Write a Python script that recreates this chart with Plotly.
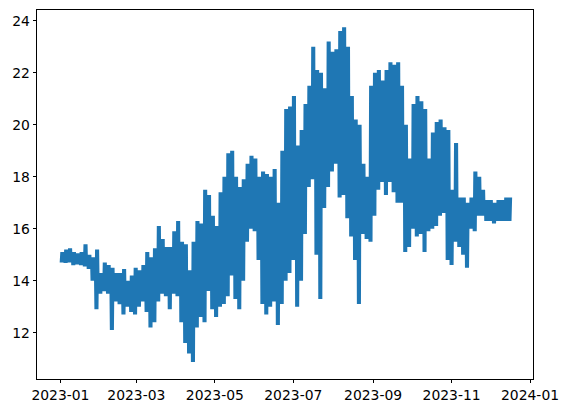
import pandas as pd
import plotly.graph_objects as go

# Sampling: one envelope reading every 3 days starting 2023-01-01
start_date = "2023-01-01"
step_days = 3

# Lower envelope (daily minima)
low_values = [
    14.7, 14.68, 14.7, 14.6, 14.62, 14.6, 14.55, 14.45, 14.0, 12.9,
    13.5, 13.6, 13.5, 12.1, 13.2, 13.1, 12.7, 13.0, 12.8, 12.7,
    13.0, 13.2, 12.8, 12.2, 12.4, 13.2, 13.5, 13.4, 12.9, 13.5,
    13.4, 12.4, 11.6, 11.2, 10.87, 12.2, 12.6, 12.4, 13.6, 12.9,
    12.6, 13.0, 13.1, 13.4, 14.2, 13.3, 12.9, 14.0, 15.5, 16.0,
    15.9, 14.8, 13.1, 12.7, 13.0, 13.2, 12.3, 13.1, 14.0, 14.3,
    14.8, 13.0, 14.0, 15.8, 17.6, 17.9, 15.0, 13.3, 16.8, 17.6,
    18.2, 18.5, 17.2, 17.3, 16.4, 15.7, 14.8, 13.1, 15.8, 15.6,
    15.5, 16.5, 17.5, 17.8, 17.3, 17.8, 17.4, 17.0, 17.0, 15.1,
    15.3, 16.0, 15.7, 15.8, 15.1, 15.9, 16.0, 16.1, 16.5, 16.6,
    14.8, 14.6, 15.5, 15.3, 15.0, 14.5, 16.0, 15.9, 16.5, 16.5,
    16.3, 16.3, 16.2, 16.3, 16.3, 16.3, 16.3,
]

# Upper envelope (daily maxima)
high_values = [
    15.1, 15.2, 15.25, 15.1, 15.05, 15.1, 15.4, 15.0, 14.9, 15.2,
    14.3, 14.7, 14.6, 14.5, 14.3, 14.3, 14.45, 14.0, 14.2, 14.5,
    14.4, 14.6, 15.1, 14.9, 15.25, 16.1, 15.6, 15.3, 15.3, 15.9,
    16.3, 15.5, 15.4, 14.4, 15.5, 16.3, 16.2, 17.5, 17.3, 16.5,
    16.1, 17.4, 18.0, 18.9, 19.0, 18.0, 17.6, 17.9, 18.5, 18.8,
    18.7, 18.0, 18.2, 18.1, 18.0, 18.3, 17.0, 19.0, 20.6, 20.7,
    21.1, 19.2, 19.8, 20.8, 21.5, 23.0, 22.1, 22.0, 21.4, 23.2,
    22.8, 22.9, 23.6, 23.75, 23.0, 21.1, 20.2, 20.0, 18.5, 18.0,
    21.5, 22.0, 22.1, 21.7, 22.1, 22.4, 22.3, 22.4, 21.5, 20.0,
    18.7, 20.8, 21.1, 20.9, 20.6, 18.7, 19.7, 20.1, 20.2, 19.9,
    19.8, 17.5, 19.3, 17.2, 17.2, 17.0, 17.2, 18.2, 18.0, 17.5,
    17.1, 17.1, 17.0, 17.1, 17.1, 17.2, 17.2,
]

tick_dates = ["2023-01-01", "2023-03-01", "2023-05-01", "2023-07-01",
              "2023-09-01", "2023-11-01", "2024-01-01"]
tick_labels = ["2023-01", "2023-03", "2023-05", "2023-07",
               "2023-09", "2023-11", "2024-01"]
y_ticks = [12, 14, 16, 18, 20, 22, 24]

# Each 3-day reading is drawn as daily swings between its low and high
swings_per_step = 3
t0 = pd.Timestamp(start_date)
xs, ys = [], []
for i, (lo, hi) in enumerate(zip(low_values, high_values)):
    base = t0 + pd.Timedelta(days=i * step_days)
    for k in range(swings_per_step):
        t = base + pd.Timedelta(days=k)
        xs.append(t)
        ys.append(lo)
        xs.append(t + pd.Timedelta(hours=12))
        ys.append(hi)

fig = go.Figure(go.Scatter(x=xs, y=ys, mode="lines",
                           line=dict(color="#1f77b4", width=1.5)))

x_range = [t0 - pd.Timedelta(days=18.2), t0 + pd.Timedelta(days=367.3)]

axis_common = dict(showline=True, linecolor="black", linewidth=0.8, mirror=True,
                   ticks="outside", ticklen=3.5, tickwidth=0.8, tickcolor="black",
                   showgrid=False, zeroline=False, automargin=False)

fig.update_layout(
    width=569, height=413,
    margin=dict(l=29.3, r=43.7, t=2.3, b=42, autoexpand=False),
    plot_bgcolor="white", paper_bgcolor="white",
    showlegend=False,
    font=dict(family="DejaVu Sans", size=13.9, color="black"),
    xaxis=dict(type="date", range=x_range, tickvals=tick_dates, ticktext=tick_labels,
               **axis_common),
    yaxis=dict(range=[10.22, 24.41], tickvals=y_ticks,
               ticktext=[str(v) for v in y_ticks], **axis_common),
)

fig.write_html("out.html")
